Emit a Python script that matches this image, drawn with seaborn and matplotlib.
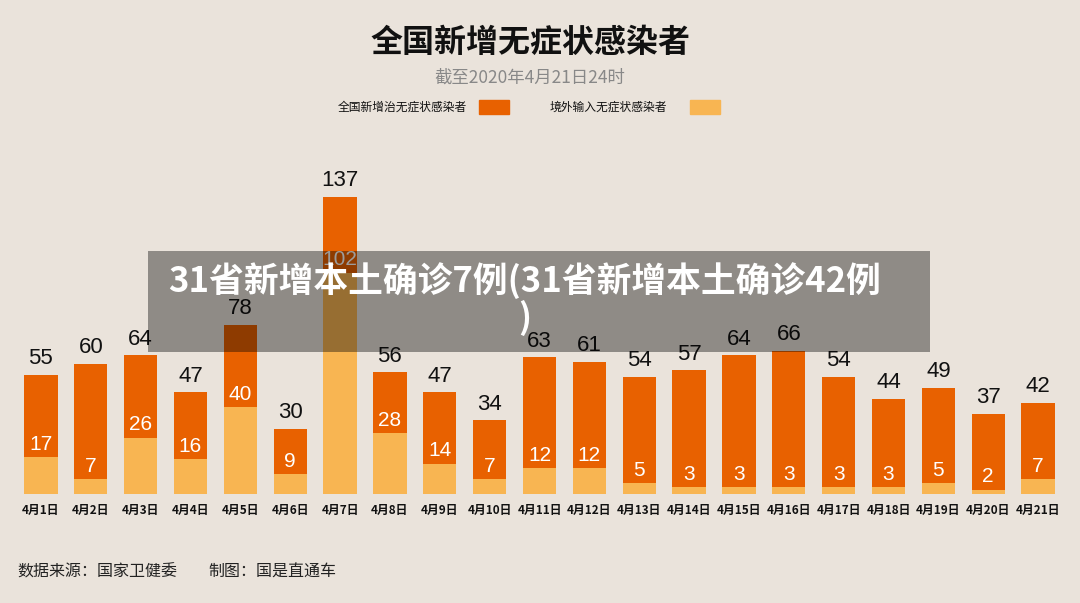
import numpy as np
import pandas as pd
import seaborn as sns
import matplotlib.pyplot as plt
from matplotlib.patches import Rectangle

# 数据
dates = [f"4月{d}日" for d in range(1, 22)]
total = [55, 60, 64, 47, 78, 30, 137, 56, 47, 34, 63, 61, 54, 57, 64, 66, 54, 44, 49, 37, 42]
imported = [17, 7, 26, 16, 40, 9, 102, 28, 14, 7, 12, 12, 5, 3, 3, 3, 3, 3, 5, 2, 7]

orange = "#E86100"
yellow = "#F8B552"
bg = "#EAE3DB"

sns.set_theme(style="white")
plt.rcParams['font.family'] = ['Noto Sans CJK SC', 'DejaVu Sans']

fig = plt.figure(figsize=(10.8, 6.03), dpi=100)
fig.patch.set_facecolor(bg)

ax = fig.add_axes([16 / 1080, 109 / 603, 1047 / 1080, 325.5 / 603])
ax.set_facecolor(bg)

df = pd.DataFrame({"date": dates, "total": total, "imported": imported})
sns.barplot(data=df, x="date", y="total", color=orange, width=0.67, saturation=1,
            linewidth=0, ax=ax)
sns.barplot(data=df, x="date", y="imported", color=yellow, width=0.67, saturation=1,
            linewidth=0, ax=ax)

ax.set_ylim(0, 150)
ax.set_xlim(-0.5, len(dates) - 0.5)
ax.set_xlabel("")
ax.set_ylabel("")
ax.set_yticks([])
sns.despine(ax=ax, left=True, bottom=True)
ax.tick_params(axis="x", length=0, pad=7)
for lbl in ax.get_xticklabels():
    lbl.set_fontsize(8.5)
    lbl.set_fontweight("bold")
    lbl.set_color("#111111")

num_font = ['Liberation Sans Narrow', 'Liberation Sans', 'DejaVu Sans']
for i, (t, m) in enumerate(zip(total, imported)):
    ax.text(i, t + 2.5, str(t), ha="center", va="bottom", fontsize=16,
            color="#111111", family=num_font)
    ax.text(i, m + 1.5, str(m), ha="center", va="bottom", fontsize=15,
            color="white", family=num_font)

# 标题
fig.text(530 / 1080, 1 - 43 / 603, "全国新增无症状感染者", ha="center", va="center",
         fontsize=23, fontweight="bold", color="#111111")
fig.text(530 / 1080, 1 - 78 / 603, "截至2020年4月21日24时", ha="center", va="center",
         fontsize=12.5, color="#888888")

# 图例
fig.text(338 / 1080, 1 - 107 / 603, "全国新增治无症状感染者", ha="left", va="center",
         fontsize=8.5, color="#111111")
fig.patches.append(Rectangle((479 / 1080, 1 - 114 / 603), 30 / 1080, 14 / 603,
                             transform=fig.transFigure, color=orange))
fig.text(550 / 1080, 1 - 107 / 603, "境外输入无症状感染者", ha="left", va="center",
         fontsize=8.5, color="#111111")
fig.patches.append(Rectangle((690 / 1080, 1 - 114 / 603), 30 / 1080, 14 / 603,
                             transform=fig.transFigure, color=yellow))

# 来源
fig.text(17 / 1080, 1 - 572 / 603, "数据来源：国家卫健委", ha="left", va="center",
         fontsize=11.5, color="#222222")
fig.text(208 / 1080, 1 - 572 / 603, "制图：国是直通车", ha="left", va="center",
         fontsize=11.5, color="#222222")

# 横幅
fig.patches.append(Rectangle((148 / 1080, 1 - 352 / 603), 782 / 1080, 101 / 603,
                             transform=fig.transFigure, color="black", alpha=0.39,
                             linewidth=0, zorder=10))
fig.text(525 / 1080, 1 - 299 / 603, "31省新增本土确诊7例(31省新增本土确诊42例\n)",
         ha="center", va="center", fontsize=25, fontweight="bold", color="white",
         linespacing=1.05, zorder=11)

fig.savefig("out.png", dpi=100, facecolor=bg)
